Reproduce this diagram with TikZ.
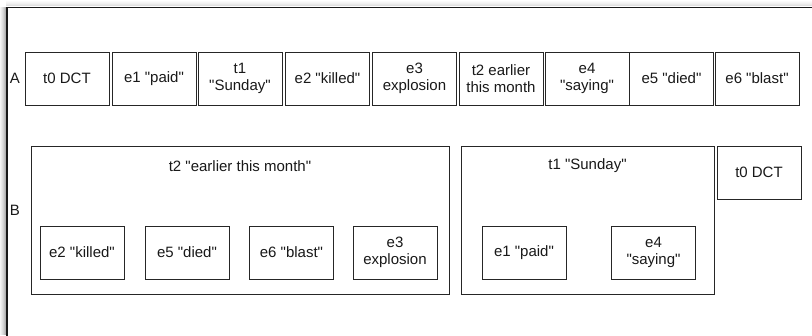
\documentclass[tikz,border=0pt]{standalone}
\usepackage{fontspec}
\setmainfont{Liberation Sans}[Ligatures=TeXOff]
\begin{document}
\begin{tikzpicture}[x=1pt,y=-1pt,
  every node/.style={inner sep=0pt, outer sep=0pt, font=\fontsize{15}{17.5}\selectfont, text=black!90},
  cell/.style={draw=black!85, line width=0.9pt, minimum width=84pt, minimum height=53pt, align=center},
  group/.style={draw=black!85, line width=0.9pt},
  rowlabel/.style={anchor=center}]
\useasboundingbox (0,0) rectangle (812,335);
% soft shadow along the left and top of the page frame
\foreach \i/\g in {0/4,1/8,2/12,3/17,4/23,5/30}{
  \fill[black!\g] (\i,7) rectangle (\i+1.2,335);
}
\foreach \i/\g in {1/2,2/4,3/6,4/9,5/12}{
  \fill[black!\g] (6,\i) rectangle (812,\i+1.2);
}
\fill[white] (7.5,8) rectangle (812,335);
% page frame
\draw[line width=1.4pt, black!90] (6.8,336) |- (813,7.2);

% row A
\node[rowlabel] (labA) at (15,78) {A};
\node[cell] (a1) at (67,78.5) {t0 DCT};
\node[cell] (a2) at (154,78.5) {e1 "paid"};
\node[cell] (a3) at (240,78.5) {t1\\"Sunday"};
\node[cell] (a4) at (327.5,78.5) {e2 "killed"};
\node[cell] (a5) at (414.5,78.5) {e3\\explosion};
\node[cell] (a6) at (501,78.5) {t2 earlier\\this month};
\node[cell] (a7) at (587,78.5) {e4\\"saying"};
\node[cell] (a8) at (671.5,78.5) {e5 "died"};
\node[cell] (a9) at (757,78.5) {e6 "blast"};

% row B
\node[rowlabel] (labB) at (15,210) {B};
\node[group, minimum width=418pt, minimum height=148pt] (g2) at (240,220) {};
\node (g2title) at (240,166) {t2 "earlier this month"};
\node[cell] (b1) at (82,252.5) {e2 "killed"};
\node[cell] (b2) at (187,252.5) {e5 "died"};
\node[cell] (b3) at (291.5,252.5) {e6 "blast"};
\node[cell] (b4) at (395,252.5) {e3\\explosion};

\node[group, minimum width=253pt, minimum height=148pt] (g1) at (587.5,220) {};
\node (g1title) at (587.5,166) {t1 "Sunday"};
\node[cell] (b5) at (524,252.5) {e1 "paid"};
\node[cell] (b6) at (653.5,252.5) {e4\\"saying"};

\node[cell] (b7) at (759,172.5) {t0 DCT};
\end{tikzpicture}
\end{document}
